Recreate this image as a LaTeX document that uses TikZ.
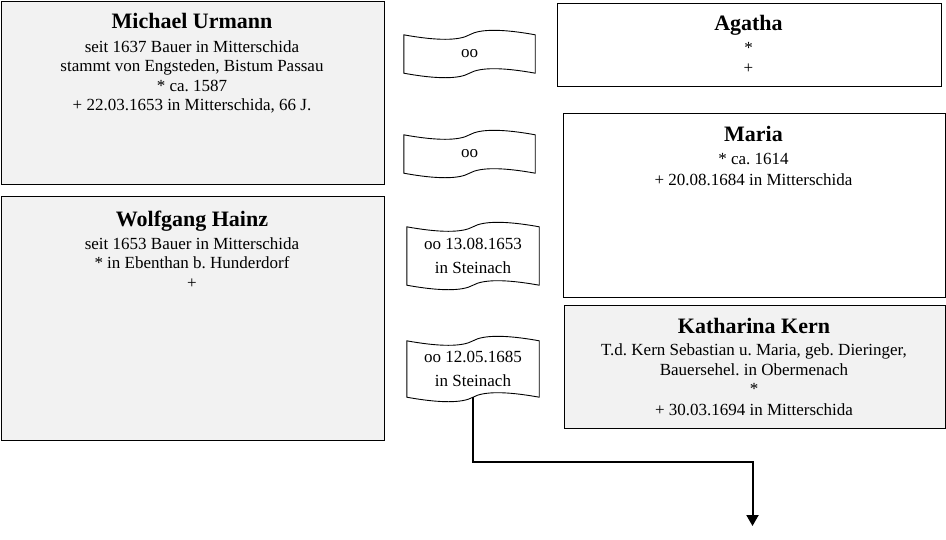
\documentclass[tikz,border=0pt]{standalone}
\usepackage{fontspec}
\setmainfont{Liberation Serif}
\usetikzlibrary{calc,arrows.meta}
\definecolor{boxgray}{HTML}{F2F2F2}
\frenchspacing
\newcommand\wa{6}
\newcommand\drawwave[1]{%
 \path[waveline] (#1.north west)
 .. controls ($(#1.north west)!0.25!(#1.north east)+(0,\wa)$) and ($(#1.north west)!0.42!(#1.north east)+(0,\wa)$) .. (#1.north)
 .. controls ($(#1.north west)!0.58!(#1.north east)+(0,-\wa)$) and ($(#1.north west)!0.75!(#1.north east)+(0,-\wa)$) .. (#1.north east)
 -- (#1.south east)
 .. controls ($(#1.south west)!0.75!(#1.south east)+(0,-\wa)$) and ($(#1.south west)!0.58!(#1.south east)+(0,-\wa)$) .. (#1.south)
 .. controls ($(#1.south west)!0.42!(#1.south east)+(0,\wa)$) and ($(#1.south west)!0.25!(#1.south east)+(0,\wa)$) .. (#1.south west)
 -- cycle;}
\begin{document}
\begin{tikzpicture}[x=1pt,y=-1pt,
  pbox/.style={draw=black, line width=1pt, inner sep=0pt, anchor=north west},
  graybox/.style={pbox, fill=boxgray},
  whitebox/.style={pbox, fill=white},
  txt/.style={align=center, inner sep=0pt, anchor=north, font=\fontsize{17}{19.5}\selectfont\frenchspacing},
  wavebox/.style={inner sep=0pt, align=center, font=\fontsize{17}{24}\selectfont\frenchspacing},
  waveline/.style={draw=black, line width=0.9pt},
  conn/.style={draw=black, line width=2pt, -{Triangle[width=12pt,length=11pt]}}]
\useasboundingbox (0,0) rectangle (946,539);
% person boxes
\node[graybox, minimum width=383pt, minimum height=183pt] (mu) at (0.5,0.5) {};
\node[graybox, minimum width=383pt, minimum height=244pt] (wh) at (0.5,196) {};
\node[whitebox, minimum width=384pt, minimum height=83pt] (ag) at (556.5,2.5) {};
\node[whitebox, minimum width=382pt, minimum height=184pt] (ma) at (562.5,113) {};
\node[graybox, minimum width=381pt, minimum height=123pt] (kk) at (563.5,304.5) {};
% texts
\newcommand\nm[1]{{\fontsize{22}{24}\selectfont\bfseries #1}}
\node[txt] (mut) at (192,13) {\nm{Michael Urmann}\\[4.5pt]seit 1637 Bauer in Mitterschida\\stammt von Engsteden, Bistum Passau\\* ca. 1587\\+ 22.03.1653 in Mitterschida, 66 J.};
\node[txt] (wht) at (192,211) {\nm{Wolfgang Hainz}\\[3pt]seit 1653 Bauer in Mitterschida\\* in Ebenthan b. Hunderdorf\\+};
\node[txt] (agt) at (748.5,15) {\nm{Agatha}\\[3.5pt]*\\[1pt]+};
\node[txt] (mat) at (753.5,126) {\nm{Maria}\\[4pt]* ca. 1614\\[1.5pt]+ 20.08.1684 in Mitterschida};
\node[txt] (kkt) at (754,318) {\nm{Katharina Kern}\\[3pt]T.d. Kern Sebastian u. Maria, geb. Dieringer,\\Bauersehel. in Obermenach\\*\\[1pt]+ 30.03.1694 in Mitterschida};
% marriage ribbons
\node[wavebox, minimum width=131pt, minimum height=38pt] (w1) at (469.5,54) {\raisebox{-4pt}{oo}};
\node[wavebox, minimum width=131pt, minimum height=38pt] (w2) at (469.5,154) {\raisebox{-4pt}{oo}};
\node[wavebox, minimum width=132pt, minimum height=58pt] (w3) at (473,256) {oo 13.08.1653\\in Steinach};
\node[wavebox, minimum width=132pt, minimum height=56pt] (w4) at (473,369) {oo 12.05.1685\\in Steinach};
\drawwave{w1}
\drawwave{w2}
\drawwave{w3}
\drawwave{w4}
% connector
\coordinate (bend) at (752.5,461.5);
\coordinate (end) at (752.5,526);
\draw[conn] ([xshift=-0.5pt]w4.south) |- (bend) -- (end);
\end{tikzpicture}
\end{document}
